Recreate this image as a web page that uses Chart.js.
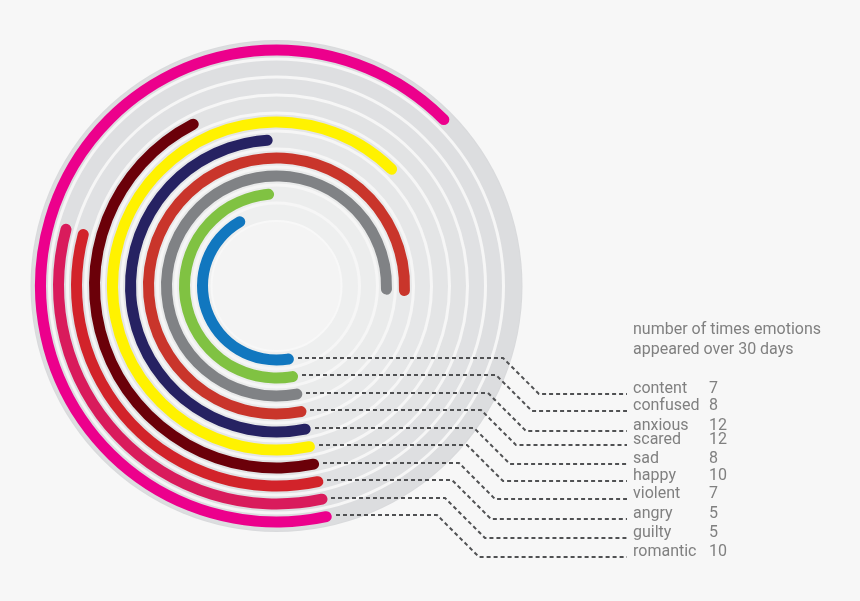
<!DOCTYPE html>
<html>
<head>
<meta charset="utf-8">
<script src="https://cdn.jsdelivr.net/npm/chart.js@4/dist/chart.umd.min.js"></script>
<style>
  html, body { margin: 0; padding: 0; background: #f7f7f7; }
  #wrap { width: 860px; height: 601px; }
</style>
</head>
<body>
<div id="wrap"><canvas id="emotions" width="860" height="601"></canvas></div>
<script>
// data, listed from the innermost ring outwards
const categories = ['content', 'confused', 'anxious', 'scared', 'sad', 'happy', 'violent', 'angry', 'guilty', 'romantic'];
const counts = [7, 8, 12, 12, 8, 10, 7, 5, 5, 10];
const colors = ['#1177bf', '#80c242', '#808285', '#c9352b', '#262262', '#fff200', '#6b0009', '#d2232a', '#d91b5c', '#ec008c'];
const titleLines = ['number of times emotions', 'appeared over 30 days'];

const FULL = 15;        // value of one whole turn
const labelX = 633, valueX = 709;
const labelY = [389, 406, 426, 440, 459, 476, 494, 514, 533, 552];
const FONT = '16px Roboto, "Liberation Sans", sans-serif';

let datasets = [];
for (let i = categories.length - 1; i >= 0; i--) {
  datasets.push({
    label: categories[i],
    data: [counts[i], FULL - counts[i]],
    backgroundColor: [colors[i], 'rgba(0,0,0,0)'],
    borderWidth: 0,
    borderRadius: 6,
    weight: 11
  });
  if (i > 0) {
    datasets.push({ label: 'gap', data: [1], backgroundColor: 'rgba(0,0,0,0)', borderWidth: 0, weight: 7 });
  }
}

function mix(a, b, t) {
  const pa = [1, 3, 5].map(k => parseInt(a.substr(k, 2), 16));
  const pb = [1, 3, 5].map(k => parseInt(b.substr(k, 2), 16));
  return 'rgb(' + pa.map((v, k) => Math.round(v + (pb[k] - v) * t)).join(',') + ')';
}

// ring metas, innermost first
function ringArcs(chart) {
  let out = [];
  chart.data.datasets.forEach((ds, di) => {
    if (ds.label !== 'gap') out.push(chart.getDatasetMeta(di).data[0]);
  });
  return out.reverse();
}

const tracks = {
  id: 'tracks',
  beforeDatasetsDraw(chart) {
    const ctx = chart.ctx;
    const arcs = ringArcs(chart);
    const cx = arcs[0].x, cy = arcs[0].y;
    const mids = arcs.map(a => (a.innerRadius + a.outerRadius) / 2);
    const half = (mids[1] - mids[0]) / 2;
    ctx.save();
    // outer disk
    ctx.beginPath();
    ctx.arc(cx, cy, mids[mids.length - 1] + half + 1, 0, Math.PI * 2);
    ctx.fillStyle = '#d9dadc';
    ctx.fill();
    for (let i = mids.length - 1; i >= 0; i--) {
      const t = i / (mids.length - 1);
      ctx.beginPath();
      ctx.arc(cx, cy, mids[i] + half, 0, Math.PI * 2);
      ctx.fillStyle = mix('#eeefef', '#dcdddf', t);
      ctx.fill();
      ctx.lineWidth = 3;
      ctx.strokeStyle = '#f6f6f6';
      if (i < mids.length - 1) ctx.stroke();
    }
    ctx.beginPath();
    ctx.arc(cx, cy, mids[0] - half, 0, Math.PI * 2);
    ctx.fillStyle = '#f4f4f4';
    ctx.fill();
    ctx.lineWidth = 2;
    ctx.strokeStyle = '#f8f8f8';
    ctx.stroke();
    ctx.restore();
  }
};

const leaders = {
  id: 'leaders',
  afterDatasetsDraw(chart) {
    const ctx = chart.ctx;
    const arcs = ringArcs(chart);
    ctx.save();
    ctx.strokeStyle = '#505153';
    ctx.lineWidth = 2;
    ctx.setLineDash([4, 3]);
    arcs.forEach((a, i) => {
      const r = (a.innerRadius + a.outerRadius) / 2;
      const px = Math.round(a.x + r * Math.cos(a.startAngle) + 4);
      const py = Math.round(a.y + r * Math.sin(a.startAngle));
      const ly = labelY[i] + 5;
      const bend = Math.round(503 - i * 7.3);
      ctx.beginPath();
      ctx.moveTo(px, py);
      ctx.lineTo(bend, py);
      ctx.lineTo(bend + (ly - py), ly);
      ctx.lineTo(labelX - 6, ly);
      ctx.stroke();
    });
    ctx.setLineDash([]);
    ctx.fillStyle = '#808080';
    ctx.font = FONT;
    ctx.textBaseline = 'middle';
    ctx.fillText(titleLines[0], labelX, 330);
    ctx.fillText(titleLines[1], labelX, 350);
    categories.forEach((c, i) => {
      ctx.fillText(c, labelX, labelY[i]);
      const w = ctx.measureText(c).width;
      ctx.fillText(String(counts[i]), Math.max(valueX, labelX + w + 4), labelY[i]);
    });
    ctx.restore();
  }
};

new Chart(document.getElementById('emotions'), {
  type: 'doughnut',
  data: { labels: ['count', 'rest'], datasets: datasets },
  options: {
    responsive: false,
    animation: false,
    events: [],
    rotation: 166.5,
    circumference: 360,
    cutout: 68.5,
    layout: { padding: { left: 34.5, right: 341.5, top: 44.5, bottom: 73.5 } },
    plugins: { legend: { display: false }, tooltip: { enabled: false } }
  },
  plugins: [tracks, leaders]
});
</script>
</body>
</html>
